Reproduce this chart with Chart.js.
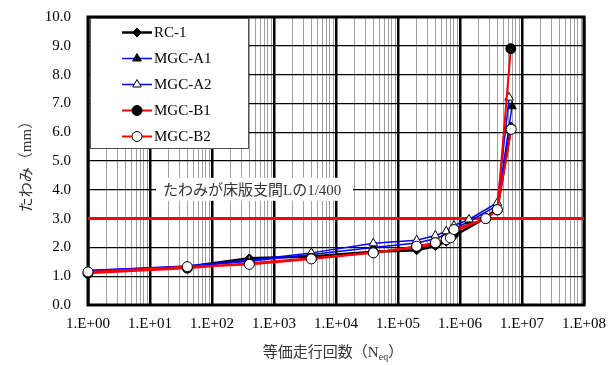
<!DOCTYPE html>
<html>
<head>
<meta charset="utf-8">
<script src="https://cdn.jsdelivr.net/npm/chart.js@4.4.0/dist/chart.umd.min.js"></script>
<style>
  html, body { margin: 0; padding: 0; background: #fff; }
</style>
</head>
<body>
<canvas id="c" width="609" height="365"></canvas>
<script>
// equivalent passes (N_eq) and deflection (mm) per specimen
const cyclesRC1 = [1, 40, 400, 4000, 40000, 2e5, 4e5, 6e5, 8e5, 2.6e6, 4e6, 6.7e6];
const defRC1    = [1.15, 1.33, 1.62, 1.68, 1.85, 1.9, 2.05, 2.2, 2.4, 3.03, 3.35, 6.2];

const cyclesA1 = [1, 40, 400, 4000, 40000, 2e5, 4e5, 6e5, 8e5, 1.4e6, 4e6, 6.9e6];
const defA1    = [1.2, 1.33, 1.52, 1.75, 2.0, 2.15, 2.3, 2.45, 2.65, 2.9, 3.45, 6.9];

const cyclesA2 = [1, 40, 400, 4000, 40000, 2e5, 4e5, 6e5, 8e5, 1.4e6, 4e6, 6.2e6];
const defA2    = [1.2, 1.35, 1.55, 1.81, 2.14, 2.25, 2.41, 2.56, 2.76, 2.97, 3.55, 7.2];

const cyclesB1 = [1, 40, 400, 4000, 40000, 2e5, 4e5, 6e5, 8e5, 2.6e6, 4e6, 6.6e6];
const defB1    = [1.1, 1.28, 1.45, 1.62, 1.82, 2.0, 2.12, 2.27, 2.55, 3.0, 3.3, 8.9];

const cyclesB2 = [1, 40, 400, 4000, 40000, 2e5, 4e5, 6e5, 7e5, 8e5, 2.6e6, 4e6, 6.7e6];
const defB2    = [1.15, 1.33, 1.41, 1.6, 1.81, 2.04, 2.16, 2.27, 2.33, 2.62, 3.0, 3.31, 6.1];

// L/400 limit line
const limitX = [1, 1e8];
const limitY = [3.0, 3.0];
const limitLabel = 'たわみが床版支間Lの1/400';

const seriesNames = ['RC-1', 'MGC-A1', 'MGC-A2', 'MGC-B1', 'MGC-B2'];
const xTitle = ['等価走行回数（N', 'eq', '）'];
const yTitle = 'たわみ（mm）';

const yMin = 0, yMax = 10, yStep = 1;
const xMin = 1, xMax = 1e8;

function pts(xs, ys) {
    return xs.map((x, i) => ({ x: x, y: ys[i] }));
}
function isDecade(v) {
    let l = Math.log10(v);
    return Math.abs(l - Math.round(l)) < 1e-9;
}
function expLabel(v) {
    let e = Math.round(Math.log10(v));
    return '1.E+' + (e < 10 ? '0' + e : e);
}

const serifFont = '"Liberation Serif", "Times New Roman", serif';
const jpFont = '"Liberation Serif", "Noto Sans CJK JP", sans-serif';

// frame, limit label, legend and axis titles
const decorPlugin = {
    id: 'decor',
    beforeDatasetsDraw(chart) {
        const { ctx, chartArea: a, scales } = chart;
        ctx.save();
        let y4 = scales.y.getPixelForValue(4);
        ctx.fillStyle = '#fff';
        ctx.fillRect(a.left + 68, y4 - 12, 197, 23);
        ctx.font = '15px ' + jpFont;
        ctx.fillStyle = '#333';
        ctx.textBaseline = 'middle';
        ctx.textAlign = 'left';
        ctx.fillText(limitLabel, a.left + 75, y4 + 1);
        ctx.lineWidth = 3;
        ctx.strokeStyle = '#000';
        ctx.strokeRect(a.left, a.top, a.right - a.left, a.bottom - a.top);
        ctx.restore();
    },
    afterDatasetsDraw(chart) {
        const { ctx, chartArea: a } = chart;
        ctx.save();
        let bx = a.left + 2, by = a.top + 1, bw = 158, bh = 130;
        ctx.fillStyle = '#fff';
        ctx.fillRect(bx, by, bw, bh);
        ctx.lineWidth = 1;
        ctx.strokeStyle = '#555';
        ctx.strokeRect(bx + 0.5, by + 0.5, bw, bh);
        ctx.font = '15px ' + serifFont;
        ctx.textBaseline = 'middle';
        ctx.textAlign = 'left';
        for (let i = 0; i < 5; i++) {
            let ds = chart.data.datasets[i];
            let y = a.top + 15.5 + i * 26;
            ctx.strokeStyle = ds.borderColor;
            ctx.lineWidth = ds.borderWidth;
            ctx.beginPath();
            ctx.moveTo(a.left + 34, y);
            ctx.lineTo(a.left + 64, y);
            ctx.stroke();
            ctx.fillStyle = ds.pointBackgroundColor;
            ctx.strokeStyle = ds.pointBorderColor;
            ctx.lineWidth = ds.pointBorderWidth;
            Chart.helpers.drawPoint(ctx, {
                pointStyle: ds.pointStyle, radius: ds.pointRadius, rotation: 0, borderWidth: ds.pointBorderWidth
            }, a.left + 49, y);
            ctx.fillStyle = '#000';
            ctx.fillText(ds.label, a.left + 66, y + 1);
        }
        ctx.restore();
    },
    afterDraw(chart) {
        const { ctx, chartArea: a } = chart;
        ctx.save();
        ctx.fillStyle = '#333';
        ctx.textBaseline = 'alphabetic';
        ctx.textAlign = 'left';
        // x title with subscript
        let big = '15px ' + jpFont, small = '10px ' + serifFont;
        ctx.font = big;
        let w0 = ctx.measureText(xTitle[0]).width;
        let w2 = ctx.measureText(xTitle[2]).width;
        ctx.font = small;
        let w1 = ctx.measureText(xTitle[1]).width;
        let x = (a.left + a.right) / 2 - 3 - (w0 + w1 + w2) / 2;
        let y = 357;
        ctx.font = big;
        ctx.fillText(xTitle[0], x, y);
        ctx.font = small;
        ctx.fillText(xTitle[1], x + w0, y + 3);
        ctx.font = big;
        ctx.fillText(xTitle[2], x + w0 + w1, y);
        // y title
        ctx.translate(27, (a.top + a.bottom) / 2 + 2);
        ctx.rotate(-Math.PI / 2);
        ctx.textAlign = 'center';
        ctx.textBaseline = 'middle';
        ctx.font = big;
        ctx.fillText(yTitle, 0, 0);
        ctx.restore();
    }
};

function series(label, xs, ys, color, width, style, radius, fill, order) {
    return {
        label: label,
        data: pts(xs, ys),
        borderColor: color,
        borderWidth: width,
        pointStyle: style,
        pointRadius: radius,
        pointHoverRadius: radius,
        pointBackgroundColor: fill,
        pointBorderColor: '#000',
        pointBorderWidth: 1,
        showLine: true,
        fill: false,
        tension: 0,
        clip: false,
        order: order
    };
}

const chart = new Chart(document.getElementById('c'), {
    type: 'scatter',
    data: {
        datasets: [
            series(seriesNames[0], cyclesRC1, defRC1, '#000', 2.5, 'rectRot', 4.5, '#000', 5),
            series(seriesNames[1], cyclesA1, defA1, '#0000ff', 1.5, 'triangle', 5, '#000', 4),
            series(seriesNames[2], cyclesA2, defA2, '#0000ff', 1.5, 'triangle', 5, '#fff', 3),
            series(seriesNames[3], cyclesB1, defB1, '#ff0000', 2, 'circle', 5, '#000', 2),
            series(seriesNames[4], cyclesB2, defB2, '#ff0000', 2, 'circle', 5, '#fff', 1),
            {
                label: 'limit',
                data: pts(limitX, limitY),
                borderColor: '#ff0000',
                borderWidth: 3,
                pointRadius: 0,
                showLine: true,
                fill: false,
                order: 6
            }
        ]
    },
    options: {
        responsive: false,
        animation: false,
        layout: { padding: { left: 0, right: 25, top: 17, bottom: 0 } },
        plugins: {
            legend: { display: false },
            tooltip: { enabled: false }
        },
        scales: {
            x: {
                type: 'logarithmic',
                min: xMin,
                max: xMax,
                afterBuildTicks: s => {
                    let t = [];
                    for (let e = 0; e < 8; e++) {
                        for (let m = 1; m < 10; m++) t.push({ value: m * Math.pow(10, e) });
                    }
                    t.push({ value: xMax });
                    s.ticks = t;
                },
                afterFit: s => { s.height = 60; s.paddingLeft = 0; s.paddingRight = 0; },
                ticks: {
                    autoSkip: false,
                    maxRotation: 0,
                    padding: 10,
                    color: '#000',
                    font: { family: serifFont, size: 15 },
                    callback: v => isDecade(v) ? expLabel(v) : ''
                },
                grid: {
                    drawTicks: false,
                    color: c => isDecade(c.tick.value) ? '#000' : '#a0a0a0',
                    lineWidth: c => isDecade(c.tick.value) ? 2.5 : 1
                },
                border: { display: false }
            },
            y: {
                min: yMin,
                max: yMax,
                afterFit: s => { s.width = 88; s.paddingTop = 0; s.paddingBottom = 0; },
                ticks: {
                    stepSize: yStep,
                    padding: 17,
                    color: '#000',
                    font: { family: serifFont, size: 15 },
                    callback: v => v.toFixed(1)
                },
                grid: { drawTicks: false, color: '#000', lineWidth: 1.3 },
                border: { display: false }
            }
        }
    },
    plugins: [decorPlugin]
});
</script>
</body>
</html>
